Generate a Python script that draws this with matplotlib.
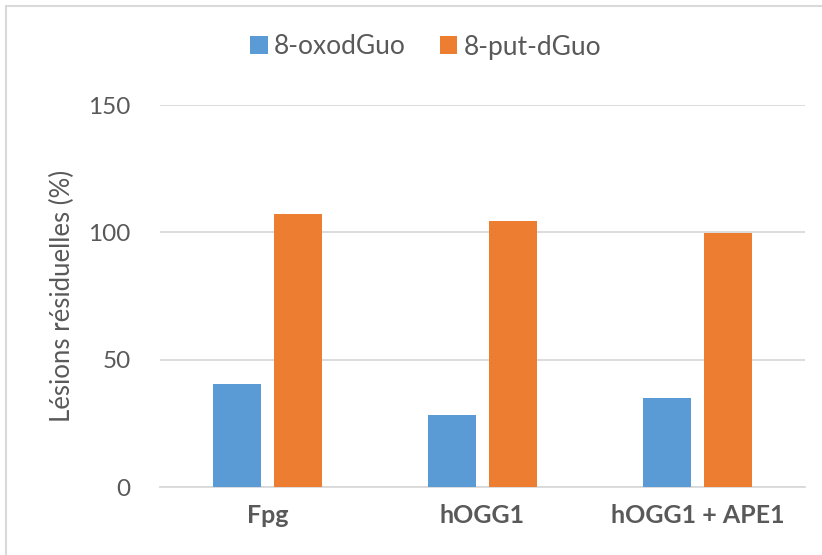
import numpy as np
import matplotlib.pyplot as plt
from matplotlib.patches import Rectangle

# data
categories = ['Fpg', 'hOGG1', 'hOGG1 + APE1']
oxo_vals = [40.5, 28.3, 35.1]
put_vals = [107.1, 104.6, 99.8]
series_names = ['8-oxodGuo', '8-put-dGuo']
yticks = [0, 50, 100, 150]

blue = '#5B9BD5'
orange = '#ED7D31'
grey_txt = '#595959'
grid_col = '#D9D9D9'

plt.rcParams['font.family'] = ['Lato', 'DejaVu Sans']

fig = plt.figure(figsize=(8.22, 5.55), dpi=100)
ax = fig.add_axes([160/822, 68/555, 645/822, 382/555])

x = np.arange(len(categories))
w = 0.223
off = 0.14
ax.bar(x - off, oxo_vals, w, color=blue, label=series_names[0], zorder=3)
ax.bar(x + off, put_vals, w, color=orange, label=series_names[1], zorder=3)

ax.set_xlim(-0.5, len(categories) - 0.5)
ax.set_ylim(0, 150)
ax.set_yticks(yticks)
ax.set_yticklabels([str(t) for t in yticks], fontsize=17.5, color=grey_txt)
ax.set_xticks(x)
ax.set_xticklabels(categories, fontsize=18, fontweight='bold', color=grey_txt)
ax.tick_params(axis='both', length=0)
ax.tick_params(axis='y', pad=21)
ax.tick_params(axis='x', pad=12)

ax.yaxis.grid(True, color=grid_col, linewidth=1.3, zorder=0)
for s in ['top', 'right', 'left']:
    ax.spines[s].set_visible(False)
ax.spines['bottom'].set_color(grid_col)
ax.spines['bottom'].set_linewidth(1.3)

ax.set_ylabel('Lésions résiduelles (%)', fontsize=18.5, color=grey_txt, labelpad=10)

leg = fig.legend(loc='center', bbox_to_anchor=(426/822, 1 - 47/555), ncol=2,
                 frameon=False, fontsize=19, handlelength=0.65, handleheight=0.65,
                 handletextpad=0.25, columnspacing=1.3)
for t in leg.get_texts():
    t.set_color(grey_txt)

# chart area border
fig.patches.append(Rectangle((6/822, -0.05), 1.2, 1 - 6/555 + 0.05,
                             transform=fig.transFigure, fill=False,
                             edgecolor='#D9D9D9', linewidth=1.5))

fig.savefig('out.png', dpi=100)
